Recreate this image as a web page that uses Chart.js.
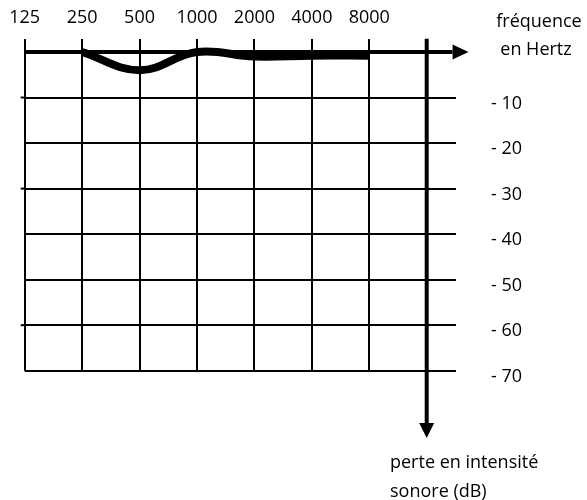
<!DOCTYPE html>
<html>
<head>
<meta charset="utf-8">
<script src="https://cdn.jsdelivr.net/npm/chart.js@4.4.1/dist/chart.umd.min.js"></script>
<style>
html, body { margin: 0; padding: 0; background: #fff; }
#wrap { width: 587px; height: 500px; }
</style>
</head>
<body>
<div id="wrap"><canvas id="audiogramme"></canvas></div>
<script>
// DONNÉES
const frequences = ['125', '250', '500', '1000', '2000', '4000', '8000'];
const courbeFreq = ['250', '500', '1000', '2000', '4000', '8000'];
const courbePerte = [0, -4, 0, -1, -0.8, -0.8];
const graduations = [-10, -20, -30, -40, -50, -60, -70];
const etiquettesDb = ['- 10', '- 20', '- 30', '- 40', '- 50', '- 60', '- 70'];

const POLICE = '"Open Sans", "Liberation Sans", sans-serif';

// axes fléchés + textes
const axesFleches = {
    id: 'axesFleches',
    beforeDatasetsDraw(chart) {
        const { ctx, scales: { x, y } } = chart;
        const x0 = x.getPixelForValue(0);
        const xAxe = x.getPixelForValue(frequences.length);
        const y0 = y.getPixelForValue(0);
        ctx.save();
        ctx.strokeStyle = '#000';
        ctx.fillStyle = '#000';

        // petits dépassements à gauche (tracé à la main)
        ctx.lineWidth = 2;
        [-10, -30, -60].forEach(v => {
            const yy = y.getPixelForValue(v);
            ctx.beginPath();
            ctx.moveTo(x0 - 4, yy);
            ctx.lineTo(x0, yy);
            ctx.stroke();
        });

        ctx.lineWidth = 4;
        // axe des fréquences
        const xFin = x.getPixelForValue(7.45);
        ctx.beginPath();
        ctx.moveTo(x0, y0);
        ctx.lineTo(xFin, y0);
        ctx.stroke();
        ctx.beginPath();
        ctx.moveTo(xFin, y0 - 7.5);
        ctx.lineTo(xFin + 16, y0);
        ctx.lineTo(xFin, y0 + 7.5);
        ctx.closePath();
        ctx.fill();

        // axe des pertes
        const yFin = y.getPixelForValue(-81.5);
        ctx.beginPath();
        ctx.moveTo(xAxe, chart.chartArea.top);
        ctx.lineTo(xAxe, yFin);
        ctx.stroke();
        ctx.beginPath();
        ctx.moveTo(xAxe - 7.5, yFin);
        ctx.lineTo(xAxe, yFin + 15);
        ctx.lineTo(xAxe + 7.5, yFin);
        ctx.closePath();
        ctx.fill();
        ctx.restore();
    },
    afterDraw(chart) {
        const { ctx } = chart;
        ctx.save();
        ctx.fillStyle = '#000';
        ctx.font = '18px ' + POLICE;
        ctx.textBaseline = 'alphabetic';
        ctx.textAlign = 'center';
        ctx.fillText('fréquence', 539, 27);
        ctx.fillText('en Hertz', 536, 55);
        ctx.textAlign = 'left';
        ctx.fillText('perte en intensité', 390, 468);
        ctx.fillText('sonore (dB)', 390, 497);
        ctx.restore();
    }
};

new Chart(document.getElementById('audiogramme'), {
    type: 'line',
    data: {
        datasets: [{
            data: courbeFreq.map((f, i) => ({ x: frequences.indexOf(f), y: courbePerte[i] })),
            borderColor: '#000',
            borderWidth: 8,
            tension: 0.4,
            pointRadius: 0,
            fill: false
        }]
    },
    options: {
        responsive: true,
        maintainAspectRatio: false,
        animation: false,
        devicePixelRatio: 1,
        layout: { padding: { left: 24.7, top: 0, right: 0, bottom: 129.3 } },
        plugins: { legend: { display: false }, tooltip: { enabled: false } },
        scales: {
            x: {
                type: 'linear',
                position: 'top',
                min: 0,
                max: 7.51,
                afterBuildTicks: s => { s.ticks = frequences.map((f, i) => ({ value: i })); },
                afterFit: s => { s.height = 38.7; s.paddingLeft = 0; s.paddingRight = 0; },
                grid: { color: '#000', lineWidth: 2, drawTicks: false },
                border: { display: false },
                ticks: {
                    color: '#000',
                    font: { family: POLICE, size: 18 },
                    padding: 10,
                    maxRotation: 0,
                    callback: v => frequences[v] || ''
                }
            },
            y: {
                type: 'linear',
                position: 'right',
                min: -70,
                max: 2.92,
                afterBuildTicks: s => { s.ticks = graduations.map(v => ({ value: v })); },
                afterFit: s => { s.width = 131; s.paddingTop = 0; s.paddingBottom = 0; },
                grid: { color: '#000', lineWidth: 2, drawTicks: false },
                border: { display: false },
                ticks: {
                    color: '#000',
                    font: { family: POLICE, size: 18 },
                    padding: 35,
                    labelOffset: 6,
                    callback: v => etiquettesDb[graduations.indexOf(v)] || ''
                }
            }
        }
    },
    plugins: [axesFleches]
});
</script>
</body>
</html>
